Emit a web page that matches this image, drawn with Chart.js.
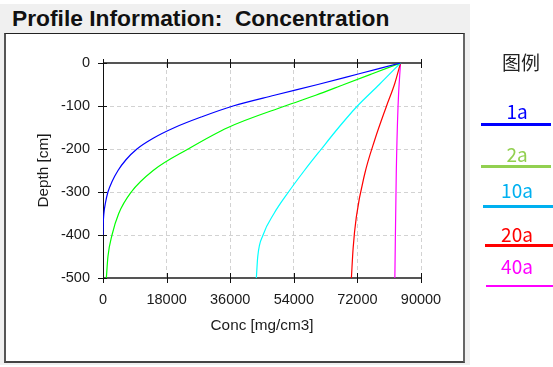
<!DOCTYPE html>
<html>
<head>
<meta charset="utf-8">
<script src="https://cdn.jsdelivr.net/npm/chart.js@4/dist/chart.umd.min.js"></script>
<style>
  body { margin: 0; width: 553px; height: 367px; background: #fff; position: relative; overflow: hidden; }
  #panel { position: absolute; left: 0; top: 4px; width: 470px; height: 361px; background: #f0f0f0; }
  #title { position: absolute; left: 12px; top: 7px; font: bold 22.8px "Liberation Sans", Arial, sans-serif; line-height: 22px; color: #111; white-space: pre; }
  #box { position: absolute; left: 4px; top: 33px; width: 457px; height: 327px; background: #fff;
         border-left: 2px solid #555; border-top: 1px solid #222; border-right: 2px solid #666; border-bottom: 2px solid #444; }
  #chart { position: absolute; left: 0; top: 0; }
  .lg { position: absolute; font-family: "Noto Sans CJK SC", sans-serif; text-align: center; }
  .lgt { width: 60px; left: 487px; font-size: 19px; line-height: 19px; }
  .lgl { position: absolute; height: 3px; }
</style>
</head>
<body>
<div id="panel"></div>
<div id="title">Profile Information:  Concentration</div>
<div id="box"></div>
<canvas id="chart" width="553" height="367"></canvas>
<div id="legend"></div>
<script>
// depth [cm] / concentration [mg/cm3] pairs
const depth1a = [0, -25, -50, -75, -100, -125, -150, -175, -200, -225, -250, -275, -300, -325, -350, -375, -400];
const conc1a  = [84200, 72500, 60800, 48500, 36800, 28000, 20300, 14200, 9600, 6500, 4250, 2600, 1400, 700, 250, 60, 0];

const depth2a = [0, -25, -50, -75, -100, -150, -200, -250, -300, -350, -400, -450, -500];
const conc2a  = [84200, 76200, 68200, 60200, 51500, 35400, 24100, 14200, 8000, 4450, 2550, 1400, 950];

const depth10a = [0, -50, -100, -150, -200, -250, -300, -350, -400, -450, -500];
const conc10a  = [84200, 78200, 72000, 66700, 61800, 57000, 52500, 48400, 45300, 43800, 43400];

const depth20a = [0, -47, -101, -179, -257, -358, -430, -500];
const conc20a  = [84200, 82600, 80200, 76900, 74100, 71700, 70800, 70300];

const depth40a = [0, -101, -257, -500];
const conc40a  = [84200, 83500, 83000, 82600];

const seriesNames = ['1a', '2a', '10a', '20a', '40a'];
const lineColors = ['#0000ff', '#00ff00', '#00ffff', '#ff0000', '#ff00ff'];
const legendColors = ['#0000ff', '#92d050', '#00b0f0', '#ff0000', '#ff00ff'];

const xTicks = [0, 18000, 36000, 54000, 72000, 90000];
const yTicks = [0, -100, -200, -300, -400, -500];

function pairs(d, c) {
  return d.map((v, i) => ({x: c[i], y: v}));
}
const allData = [
  pairs(depth1a, conc1a),
  pairs(depth2a, conc2a),
  pairs(depth10a, conc10a),
  pairs(depth20a, conc20a),
  pairs(depth40a, conc40a)
];

// axis frame with ticks crossing the lines
const frameAxes = {
  id: 'frameAxes',
  beforeDatasetsDraw(chart) {
    const {ctx, chartArea: a, scales: {x, y}} = chart;
    const line = (x1, y1, x2, y2) => { ctx.beginPath(); ctx.moveTo(x1, y1); ctx.lineTo(x2, y2); ctx.stroke(); };
    ctx.save();
    ctx.strokeStyle = '#555';
    ctx.lineWidth = 2;
    line(a.left, a.top, a.right, a.top);
    line(a.left, a.bottom, a.right, a.bottom);
    ctx.strokeStyle = '#111';
    ctx.lineWidth = 1;
    line(a.left + 0.5, a.top, a.left + 0.5, a.bottom);
    x.ticks.forEach(t => {
      const px = Math.round(x.getPixelForValue(t.value)) + 0.5;
      line(px, a.top - 4, px, a.top + 5);
      line(px, a.bottom - 5, px, a.bottom + 5);
    });
    y.ticks.forEach(t => {
      const py = Math.round(y.getPixelForValue(t.value)) + 0.5;
      line(a.left - 5, py, a.left + 4, py);
    });
    ctx.restore();
  }
};

const tickFont = {family: '"Liberation Sans", Arial, sans-serif', size: 14.5};
const titleFont = {family: '"Liberation Sans", Arial, sans-serif', size: 15.3};

new Chart(document.getElementById('chart'), {
  type: 'line',
  data: {
    datasets: allData.map((d, i) => ({
      label: seriesNames[i],
      data: d,
      borderColor: lineColors[i],
      borderWidth: 1.2,
      pointRadius: 0,
      cubicInterpolationMode: 'monotone',
      fill: false
    }))
  },
  options: {
    responsive: false,
    animation: false,
    layout: {padding: {left: 0, right: 132, top: 63, bottom: 0}},
    plugins: {legend: {display: false}, tooltip: {enabled: false}},
    scales: {
      x: {
        type: 'linear',
        min: 0, max: 90000,
        afterBuildTicks: s => { s.ticks = xTicks.map(v => ({value: v})); },
        afterFit: s => { s.height = 89; },
        ticks: {font: tickFont, color: '#1a1a1a', padding: 13, maxRotation: 0, callback: v => String(v)},
        grid: {color: '#d2d2d2', drawTicks: false, lineWidth: 1},
        border: {display: false, dash: [4, 3]},
        title: {display: true, text: 'Conc [mg/cm3]', font: titleFont, color: '#1a1a1a', padding: {top: 0, bottom: 32}}
      },
      y: {
        type: 'linear',
        min: -500, max: 0,
        afterBuildTicks: s => { s.ticks = yTicks.map(v => ({value: v})); },
        afterFit: s => { s.width = 103; },
        ticks: {font: tickFont, color: '#1a1a1a', padding: 13, callback: v => String(v)},
        grid: {color: '#d2d2d2', drawTicks: false, lineWidth: 1},
        border: {display: false, dash: [4, 3]},
        title: {display: true, text: 'Depth [cm]', font: titleFont, color: '#1a1a1a', padding: {top: 34.5, bottom: 0}}
      }
    }
  },
  plugins: [frameAxes]
});

// legend on the right
const legendTextTops = [101, 144, 180, 224, 256];
const legendLines = [[481, 123, 70, 3], [481, 165, 70, 3], [483, 205, 70, 3], [485, 244, 68, 3], [486, 285, 67, 2]];
const lg = document.getElementById('legend');
let html = '<div class="lg lgt" style="top:52px;color:#222;left:491px">图例</div>';
seriesNames.forEach((n, i) => {
  html += '<div class="lg lgt" style="top:' + legendTextTops[i] + 'px;color:' + legendColors[i] + '">' + n + '</div>';
  const l = legendLines[i];
  html += '<div class="lgl" style="left:' + l[0] + 'px;top:' + l[1] + 'px;width:' + l[2] + 'px;height:' + l[3] + 'px;background:' + legendColors[i] + '"></div>';
});
lg.innerHTML = html;
</script>
</body>
</html>
